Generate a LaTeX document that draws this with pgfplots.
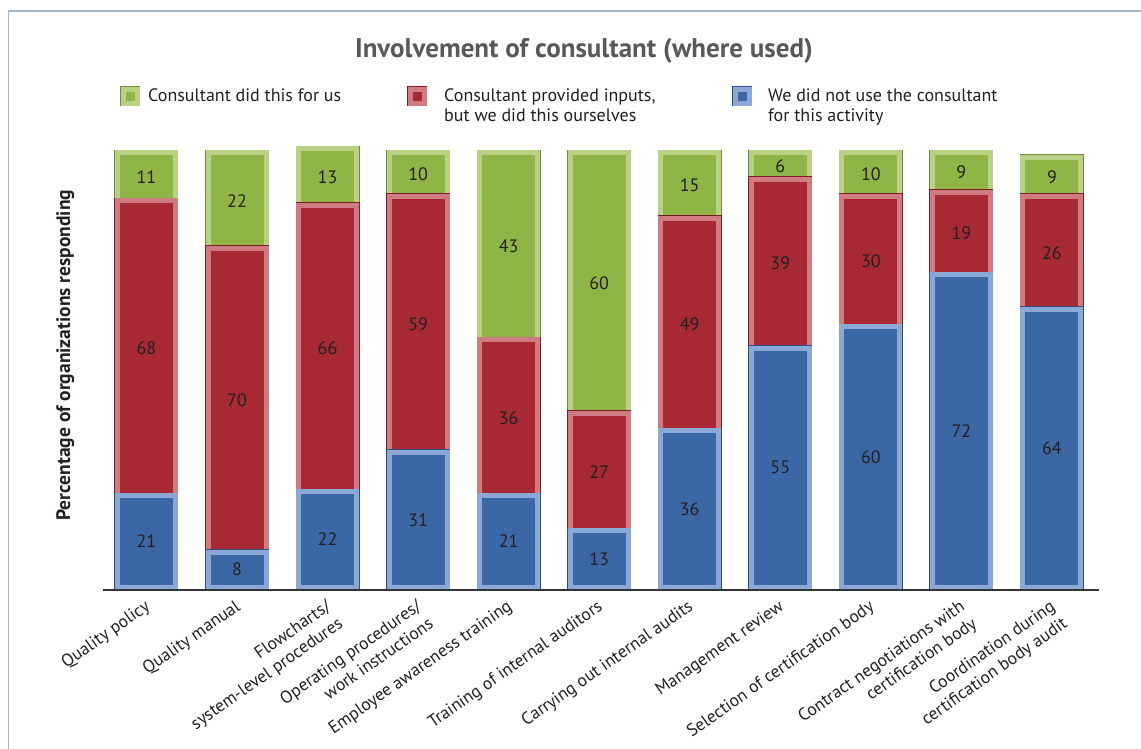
\documentclass[border=0pt]{standalone}
\usepackage{pgfplots}
\pgfplotsset{compat=1.18}
\usepackage{fontspec}
\setmainfont{PT Sans}

\definecolor{gmain}{HTML}{8FB547}
\definecolor{glight}{HTML}{B8D184}
\definecolor{gline}{HTML}{6F8A3C}

\definecolor{rmain}{HTML}{A72933}
\definecolor{rlight}{HTML}{D07A81}
\definecolor{rline}{HTML}{7A1E28}

\definecolor{bmain}{HTML}{3C67A5}
\definecolor{blight}{HTML}{8CA8D6}
\definecolor{bline}{HTML}{2E4F80}

\definecolor{txt}{HTML}{231F20}
\definecolor{ttl}{HTML}{58595B}
\definecolor{frame}{HTML}{A3B8C8}

\pgfplotsset{
  every node near coord/.style={anchor=center, font=\fontsize{18}{21}\selectfont, text=txt},
  mylegimg/.style n args={3}{legend image code/.code={
    \draw[#3, line width=6pt] (3pt,-2pt) rectangle (17pt,12pt);
    \draw[#2, line width=5pt, fill=#1] (3pt,-2pt) rectangle (17pt,12pt);}},
  mybar/.style n args={3}{fill=#1, draw=#2, line width=5pt, preaction={draw=#3, line width=6pt}},
}

\begin{document}
\begin{tikzpicture}[x=1pt,y=1pt]
\useasboundingbox (0,0) rectangle (1141,749);
\draw[frame, line width=1.2pt] (8.5,-10) -- (8.5,738) -- (1160,738);
\node[font=\bfseries\fontsize{27}{30}\selectfont, text=ttl] at (584,698) {Involvement of consultant (where used)};
\begin{axis}[
  at={(103pt,159pt)}, anchor=south west,
  scale only axis, width=996pt, height=445.7pt,
  ybar stacked, bar width=58pt,
  xmin=-0.48, xmax=10.52, ymin=-0.69, ymax=102,
  axis on top,
  axis x line*=bottom, axis y line*=left,
  y axis line style={draw=none},
  x axis line style={draw=black!80, line width=1.3pt},
  ytick=\empty, xtick=data, major tick length=0pt,
  /pgf/number format/assume math mode=true,
  xticklabels={Quality policy, Quality manual, {Flowcharts/\\system-level procedures}, {Operating procedures/\\work instructions}, Employee awareness training, Training of internal auditors, Carrying out internal audits, Management review, Selection of certification body, {Contract negotiations with\\certification body}, {Coordination during\\certification body audit}},
  xticklabel style={xshift=-2pt, yshift=-4pt, rotate=35, anchor=north east, align=right, font=\fontsize{17.5}{21}\selectfont, text=txt},
  ylabel={Percentage of organizations responding},
  ylabel style={at={(axis description cs:-0.038,0.527)}, anchor=center, rotate=0, font=\bfseries\fontsize{19.5}{22}\selectfont, text=txt},
  nodes near coords,
  reverse legend,
  legend columns=3,
  legend style={draw=none, fill=none, at={(axis description cs:0.01707,1.1308)}, anchor=north west, inner sep=0pt,
    nodes={inner sep=0pt}, cells={anchor=base west}, font=\fontsize{18}{20}\selectfont, text=txt,
    /tikz/every odd column/.append style={column sep=8pt}},
  legend entries={{\hspace*{8pt}\parbox[t]{240pt}{We did not use the consultant\\for this activity}},
    {\hspace*{9pt}\parbox[t]{288pt}{Consultant provided inputs,\\but we did this ourselves}},
    {\parbox[t]{259pt}{Consultant did this for us}}},
]
\addplot[mybar={bmain}{blight}{bline}, mylegimg={bmain}{blight}{bline}]
  coordinates {(0,21) (1,8) (2,22) (3,31) (4,21) (5,13) (6,36) (7,55) (8,60) (9,72) (10,64)};
\addplot[mybar={rmain}{rlight}{rline}, mylegimg={rmain}{rlight}{rline}]
  coordinates {(0,68) (1,70) (2,66) (3,59) (4,36) (5,27) (6,49) (7,39) (8,30) (9,19) (10,26)};
\addplot[mybar={gmain}{glight}{gline}, mylegimg={gmain}{glight}{gline}]
  coordinates {(0,11) (1,22) (2,13) (3,10) (4,43) (5,60) (6,15) (7,6) (8,10) (9,9) (10,9)};
\end{axis}
\end{tikzpicture}
\end{document}
